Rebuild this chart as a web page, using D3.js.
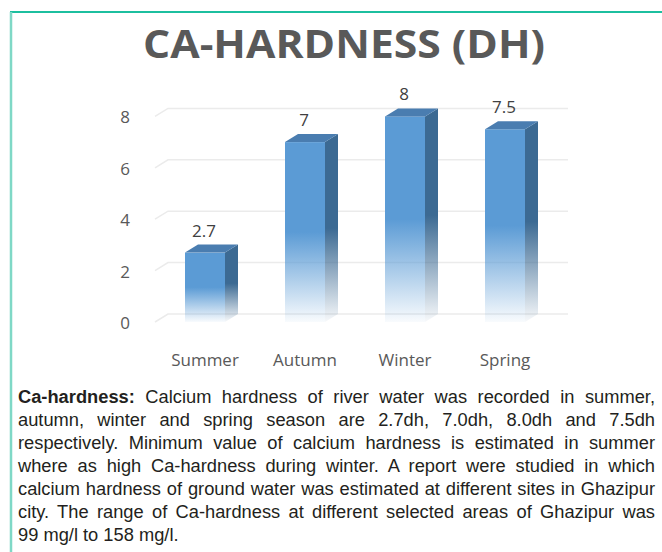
<!DOCTYPE html>
<html>
<head>
<meta charset="utf-8">
<script src="https://cdn.jsdelivr.net/npm/d3@7"></script>
<style>
  body { margin: 0; background: #fff; }
  #wrap { position: relative; width: 662px; height: 552px; overflow: hidden; }
  #caption {
    position: absolute; left: 18px; top: 385px; width: 637px;
    font-family: "Liberation Sans", Arial, sans-serif; font-size: 18.3px;
    line-height: 23px; color: #231f20;
  }
  #caption .ln { white-space: nowrap; text-align: justify; text-align-last: justify; }
  #caption .ln.last { text-align-last: left; }
</style>
</head>
<body>
<div id="wrap">
  <svg id="chart" width="662" height="552"></svg>
  <div id="caption"></div>
</div>
<script>
const seasons = ["Summer", "Autumn", "Winter", "Spring"];
const hardness = [2.7, 7, 8, 7.5];
const valueLabels = ["2.7", "7", "8", "7.5"];
const yTicks = [0, 2, 4, 6, 8];
const captionLines = [
  "Calcium hardness of river water was recorded in summer,",
  "autumn, winter and spring season are 2.7dh, 7.0dh, 8.0dh and 7.5dh",
  "respectively. Minimum value of calcium hardness is estimated in summer",
  "where as high Ca-hardness during winter. A report were studied in which",
  "calcium hardness of ground water was estimated at different sites in Ghazipur",
  "city. The range of Ca-hardness at different selected areas of Ghazipur was",
  "99 mg/l to 158 mg/l."
];

const svg = d3.select("#chart");

// frame
svg.append("line")
  .attr("x1", 10).attr("x2", 662).attr("y1", 12).attr("y2", 12)
  .attr("stroke", "#1cbf9f").attr("stroke-width", 2);
svg.append("line")
  .attr("x1", 11).attr("x2", 11).attr("y1", 12).attr("y2", 552)
  .attr("stroke", "#7fd8c6").attr("stroke-width", 2.5);

// title
svg.append("text")
  .attr("x", 143).attr("y", 58)
  .attr("textLength", 402).attr("lengthAdjust", "spacingAndGlyphs")
  .attr("font-family", "Open Sans, sans-serif")
  .attr("font-weight", "bold").attr("font-size", 39)
  .attr("fill", "#595959")
  .text("CA-HARDNESS (DH)");

const dx = 13, dy = -8;

const x = d3.scaleBand()
  .domain(seasons)
  .range([155, 555])
  .paddingInner(0.6)
  .paddingOuter(0.3);

const y = d3.scaleLinear()
  .domain([0, 8])
  .range([322, 116.4]);

// gradients
const defs = svg.append("defs");
function fade(id, color) {
  const g = defs.append("linearGradient")
    .attr("id", id).attr("x1", 0).attr("x2", 0).attr("y1", 0).attr("y2", 1);
  g.append("stop").attr("offset", "0%").attr("stop-color", color);
  g.append("stop").attr("offset", "50%").attr("stop-color", color);
  g.append("stop").attr("offset", "100%").attr("stop-color", color).attr("stop-opacity", 0.04);
}
fade("frontGrad", "#5b9bd5");
fade("sideGrad", "#3c6a93");

// gridlines (back wall + floor slant)
svg.selectAll(".grid")
  .data(yTicks)
  .join("path")
  .attr("class", "grid")
  .attr("fill", "none")
  .attr("stroke", "#ebebeb")
  .attr("stroke-width", 1.5)
  .attr("d", t => `M155,${y(t)}L${155 + dx},${y(t) + dy}H568`);

// y tick labels
svg.selectAll(".ytick")
  .data(yTicks)
  .join("text")
  .attr("class", "ytick")
  .attr("x", 125).attr("y", t => y(t) + 7)
  .attr("text-anchor", "middle")
  .attr("font-family", "Open Sans, sans-serif").attr("font-size", 17)
  .attr("fill", "#595959")
  .text(t => t);

const bars = seasons.map((s, i) => ({ s, v: hardness[i], label: valueLabels[i] }));
const w = x.bandwidth();

const g = svg.selectAll(".bar").data(bars).join("g").attr("class", "bar");

// side face
g.append("path")
  .attr("fill", "url(#sideGrad)")
  .attr("d", d => {
    const x1 = x(d.s) + w, yt = y(d.v), yb = y(0);
    return `M${x1},${yt}L${x1 + dx},${yt + dy}L${x1 + dx},${yb + dy}L${x1},${yb}Z`;
  });

// front face
g.append("rect")
  .attr("x", d => x(d.s))
  .attr("y", d => y(d.v))
  .attr("width", w)
  .attr("height", d => y(0) - y(d.v))
  .attr("fill", "url(#frontGrad)");

// top face
g.append("path")
  .attr("fill", "#4a7db0")
  .attr("d", d => {
    const x0 = x(d.s), yt = y(d.v);
    return `M${x0},${yt}L${x0 + dx},${yt + dy}L${x0 + w + dx},${yt + dy}L${x0 + w},${yt}Z`;
  });

// value labels
g.append("text")
  .attr("x", d => x(d.s) + w / 2 - 1)
  .attr("y", d => y(d.v) - 16)
  .attr("text-anchor", "middle")
  .attr("font-family", "Open Sans, sans-serif").attr("font-size", 17)
  .attr("fill", "#404040")
  .text(d => d.label);

// category labels
svg.selectAll(".cat")
  .data(seasons)
  .join("text")
  .attr("class", "cat")
  .attr("x", d => x(d) + w / 2)
  .attr("y", 366)
  .attr("text-anchor", "middle")
  .attr("font-family", "Open Sans, sans-serif").attr("font-size", 17)
  .attr("fill", "#595959")
  .text(d => d);

// caption
const cap = d3.select("#caption");
captionLines.forEach((line, i) => {
  const div = cap.append("div")
    .attr("class", "ln" + (i === captionLines.length - 1 ? " last" : ""));
  if (i === 0) {
    div.append("b").text("Ca-hardness:");
    div.append("span").text(" " + line);
  } else {
    div.text(line);
  }
});
</script>
</body>
</html>
